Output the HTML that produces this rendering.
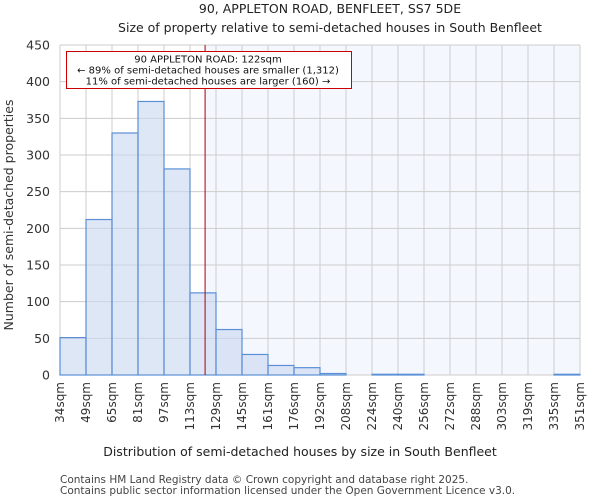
<!DOCTYPE html>
<html><head><meta charset="utf-8"><style>
body{margin:0;background:#fff;font-family:"DejaVu Sans","Liberation Sans",sans-serif;}
svg text{font-family:"DejaVu Sans","Liberation Sans",sans-serif;}
</style></head><body>
<svg width="600" height="500" xmlns="http://www.w3.org/2000/svg">
<text x="330" y="13" text-anchor="middle" font-size="12.5" fill="#222">90, APPLETON ROAD, BENFLEET, SS7 5DE</text>
<text x="330" y="32" text-anchor="middle" font-size="12.5" fill="#222">Size of property relative to semi-detached houses in South Benfleet</text>
<g id="plot"></g>
<text x="300" y="456" text-anchor="middle" font-size="12.5" fill="#222">Distribution of semi-detached houses by size in South Benfleet</text>
<text transform="translate(13,215) rotate(-90)" text-anchor="middle" font-size="12.5" fill="#333">Number of semi-detached properties</text>
<text x="60" y="483" font-size="10.5" fill="#444">Contains HM Land Registry data © Crown copyright and database right 2025.</text>
<text x="60" y="494" font-size="10.5" fill="#444">Contains public sector information licensed under the Open Government Licence v3.0.</text>
</svg>
<script>
const categories=["34sqm","49sqm","65sqm","81sqm","97sqm","113sqm","129sqm","145sqm","161sqm","176sqm","192sqm","208sqm","224sqm","240sqm","256sqm","272sqm","288sqm","303sqm","319sqm","335sqm","351sqm"];
const counts=[51,212,330,373,281,112,62,28,13,10,2,0,1,1,0,0,0,0,0,1];
const yTicks=[0,50,100,150,200,250,300,350,400,450];
const markerBin=5.58;
const L=60,R=580,T=45,B=375,yMax=450;
const bw=(R-L)/counts.length;
const xs=i=>L+i*bw, ys=v=>B-(v/yMax)*(B-T);
const g=document.getElementById('plot');const NS='http://www.w3.org/2000/svg';
function mk(t,a,p){const e=document.createElementNS(NS,t);for(const k in a)e.setAttribute(k,a[k]);(p||g).appendChild(e);return e;}
const mx=xs(markerBin);
let e=mk('rect',{x:mx,y:T,width:R-mx,height:B-T,fill:'#f4f7fe'});


categories.forEach((c,i)=>{const x=xs(i);
 let l=mk('line',{x1:x,x2:x,y1:T,y2:B,stroke:'#cccccc','stroke-width':1});
 
 
 let t=mk('text',{transform:`translate(${x+4},${B+7}) rotate(-90)`,'text-anchor':'end','font-size':'12',fill:'#333'});t.textContent=c;
 
 
});
yTicks.forEach(v=>{const y=ys(v);
 let l=mk('line',{x1:L,x2:R,y1:y,y2:y,stroke:'#cccccc','stroke-width':1});
 
 
 let t=mk('text',{x:L-10,y:y+4.5,'text-anchor':'end','font-size':'12.5',fill:'#333'});t.textContent=v;
 
 
});
counts.forEach((v,i)=>{if(v<=0)return;
 let r=mk('rect',{x:xs(i),y:ys(v),width:bw,height:B-ys(v),fill:'rgba(200,215,240,0.6)',stroke:'#5b8fd6','stroke-width':1.2});
 
 
});
e=mk('line',{x1:mx,x2:mx,y1:T,y2:B,stroke:'#aa0000','stroke-width':1});


const box=mk('g',{});


mk('rect',{x:66.5,y:51.5,width:285,height:37,fill:'#fff',stroke:'#cc0000','stroke-width':1},box);
["90 APPLETON ROAD: 122sqm","← 89% of semi-detached houses are smaller (1,312)","11% of semi-detached houses are larger (160) →"].forEach((s,i)=>{
 let t=mk('text',{x:208,y:62.5+i*11,'text-anchor':'middle','font-size':'10',fill:'#111'},box);t.textContent=s;
 
 
});
</script>
</body></html>
